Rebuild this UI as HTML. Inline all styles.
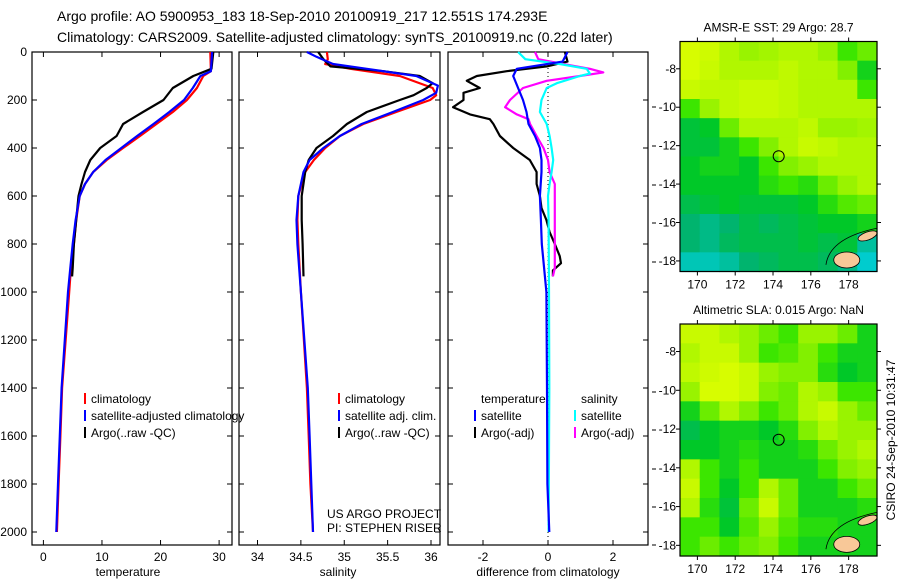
<!DOCTYPE html>
<html><head><meta charset="utf-8">
<style>
html,body{margin:0;padding:0;background:#fff;}
svg{display:block;font-family:"Liberation Sans",Arial,sans-serif;}
</style></head>
<body>
<svg id="fig" width="900" height="580" viewBox="0 0 900 580" xmlns="http://www.w3.org/2000/svg">
<text x="57" y="21" font-size="14">Argo profile: AO 5900953_183 18-Sep-2010 20100919_217 12.551S 174.293E</text>
<text x="57" y="42" font-size="14">Climatology: CARS2009. Satellite-adjusted climatology: synTS_20100919.nc (0.22d later)</text>
<g id="plots"></g>
</svg>
<script>
// ---------- profile data ----------
const tClimDepth = [0,80,100,150,200,250,300,350,400,450,500,550,600,700,800,900,1000,1400,1600,1800,2000];
const tClimVals  = [28.5,28.6,27.3,26.2,24.5,22.1,19.3,16.5,13.6,10.8,8.5,7.1,6.2,5.6,5.2,4.7,4.4,3.2,2.9,2.6,2.3];
const tSatDepth  = [0,80,100,150,200,250,300,350,400,450,500,550,600,700,800,900,1000,1400,1600,1800,2000];
const tSatVals   = [28.8,28.6,26.8,25.5,24.0,21.5,18.8,16.0,13.3,10.6,8.5,7.1,6.2,5.5,5.0,4.6,4.2,3.1,2.8,2.5,2.2];
const tArgoDepth = [0,70,100,150,200,250,300,350,400,450,500,550,600,700,800,900,935];
const tArgoVals  = [29.0,28.7,25.6,22.1,20.5,17.0,13.6,12.5,9.7,8.0,7.1,6.5,6.0,5.6,5.2,5.0,4.9];

const sClimDepth = [0,30,50,70,100,150,180,200,250,300,350,400,450,500,600,700,800,1000,1400,1600,1800,2000];
const sClimVals  = [34.80,34.81,34.78,35.07,35.64,36.02,36.06,35.99,35.60,35.22,34.95,34.78,34.65,34.55,34.47,34.46,34.47,34.50,34.57,34.59,34.61,34.64];
const sSatDepth  = [0,20,50,70,100,140,170,200,250,300,350,400,450,500,600,700,800,1000,1400,1600,1800,2000];
const sSatVals   = [34.57,34.68,34.87,35.26,35.83,36.08,36.06,35.91,35.56,35.20,34.95,34.76,34.60,34.53,34.47,34.45,34.46,34.50,34.58,34.60,34.62,34.64];
const sArgoDepth = [0,30,60,80,100,130,150,180,200,250,300,350,400,450,500,600,700,800,935];
const sArgoVals  = [34.70,34.76,34.84,35.45,35.87,36.02,35.95,35.80,35.64,35.26,35.03,34.87,34.68,34.59,34.55,34.51,34.51,34.52,34.53];

const dTSatDepth = [0,40,70,100,150,200,250,300,350,400,450,500,600,700,800,900,1000,1400,1800,2000];
const dTSatVals  = [0.6,0.45,-0.96,-1.07,-0.92,-0.77,-0.66,-0.6,-0.4,-0.25,-0.2,-0.2,-0.25,-0.22,-0.19,-0.12,-0.05,-0.03,-0.02,0.04];
const dTArgoDepth = [0,40,60,80,100,120,150,170,200,230,260,280,300,350,400,450,500,550,600,650,700,750,800,850,880,910,935];
const dTArgoVals  = [0.52,0.6,-0.04,-1.27,-2.19,-2.5,-2.1,-2.6,-2.6,-2.92,-2.4,-1.79,-1.68,-1.48,-1.07,-0.56,-0.35,-0.35,-0.25,-0.2,-0.05,0.05,0.21,0.36,0.4,0.15,0.15];
const dSSatDepth = [0,30,50,70,90,100,130,150,200,250,300,350,400,450,500,550,600,700,1000,1400,2000];
const dSSatVals  = [-0.92,-0.7,0.36,1.19,1.29,0.98,0.27,-0.04,-0.2,-0.25,-0.04,0.05,0.11,0.16,0.11,0.05,0.0,0.02,0.03,0.04,0.02];
const dSArgoDepth = [0,30,50,70,85,100,120,150,200,230,260,280,300,350,400,450,500,550,600,700,800,900,935];
const dSArgoVals  = [-0.4,-0.3,0.46,1.29,1.7,0.98,-0.04,-0.77,-1.17,-1.32,-0.96,-0.6,-0.55,-0.35,-0.14,0.0,0.05,0.21,0.21,0.21,0.21,0.21,0.15];

const depthTicks = [0,200,400,600,800,1000,1200,1400,1600,1800,2000];
const tempTicks = [0,10,20,30];
const salTicks = [34,34.5,35,35.5,36];
const salTickLabels = ["34","34.5","35","35.5","36"];
const diffTicks = [-2,0,2];

// ---------- map data (values 0..1 on colormap) ----------
const sstGrid = [
[0.95,0.92,0.85,0.8,0.82,0.85,0.85,0.8,0.6,0.7],
[0.95,0.9,0.85,0.85,0.85,0.88,0.85,0.85,0.75,0.5],
[0.9,0.88,0.88,0.9,0.9,0.88,0.85,0.85,0.85,0.6],
[0.6,0.8,0.88,0.9,0.9,0.88,0.85,0.85,0.85,0.85],
[0.4,0.45,0.7,0.85,0.85,0.85,0.88,0.8,0.8,0.82],
[0.4,0.4,0.5,0.6,0.75,0.85,0.9,0.88,0.85,0.85],
[0.45,0.5,0.5,0.45,0.6,0.75,0.8,0.85,0.85,0.85],
[0.45,0.45,0.45,0.45,0.55,0.6,0.55,0.7,0.8,0.85],
[0.35,0.4,0.45,0.4,0.4,0.4,0.45,0.55,0.65,0.7],
[0.25,0.2,0.25,0.35,0.3,0.35,0.4,0.45,0.45,0.5],
[0.25,0.2,0.3,0.35,0.35,0.35,0.4,0.35,0.4,0.15],
[0.1,0.1,0.15,0.25,0.3,0.35,0.35,0.3,0.2,0.05]];
const slaGrid = [
[0.9,0.9,0.85,0.8,0.7,0.6,0.8,0.8,0.7,0.5],
[0.85,0.9,0.9,0.8,0.6,0.65,0.75,0.6,0.5,0.5],
[0.88,0.92,0.95,0.9,0.8,0.75,0.75,0.55,0.45,0.5],
[0.8,0.95,0.95,0.9,0.75,0.7,0.85,0.8,0.6,0.6],
[0.5,0.7,0.85,0.75,0.6,0.7,0.85,0.9,0.8,0.7],
[0.35,0.45,0.5,0.5,0.45,0.55,0.75,0.85,0.8,0.8],
[0.45,0.45,0.5,0.55,0.5,0.5,0.55,0.7,0.8,0.85],
[0.85,0.6,0.5,0.6,0.5,0.5,0.5,0.6,0.75,0.8],
[0.9,0.6,0.45,0.6,0.85,0.7,0.5,0.5,0.6,0.7],
[0.85,0.55,0.4,0.7,0.9,0.7,0.5,0.5,0.5,0.55],
[0.6,0.6,0.45,0.65,0.8,0.65,0.55,0.55,0.5,0.5],
[0.6,0.7,0.6,0.7,0.75,0.6,0.5,0.5,0.5,0.5]];
const lonTicks = [170,172,174,176,178];
const latTicks = [-8,-10,-12,-14,-16,-18];
const argoLon = 174.3, argoLat = -12.55;

const NS = "http://www.w3.org/2000/svg";
const root = document.getElementById('plots');
function mk(tag, attrs, parent, text){
  const e = document.createElementNS(NS, tag);
  for (const k in attrs) e.setAttribute(k, attrs[k]);
  if (text !== undefined) e.textContent = text;
  (parent||root).appendChild(e);
  return e;
}
const Y0 = 52, Y1 = 545;
function yD(d){ return 52 + 0.24*d; }

function panel(name, x0, x1, xf, ticks, labels, xlabel, lxc){
  const g = mk('g', {});
  
  
  const fr = mk('rect', {x:x0, y:Y0, width:x1-x0, height:Y1-Y0, fill:'none', stroke:'#000', 'stroke-width':1.2}, g);
  
  
  ticks.forEach((t,i)=>{
    const x = xf(t);
    mk('line', {x1:x, x2:x, y1:Y1, y2:Y1-5, stroke:'#000'}, g);
    mk('line', {x1:x, x2:x, y1:Y0, y2:Y0+5, stroke:'#000'}, g);
    const tl = mk('text', {x:x, y:Y1+16, 'font-size':12, 'text-anchor':'middle'}, g, labels[i]);
    
    
  });
  depthTicks.forEach(d=>{
    mk('line', {x1:x0, x2:x0+5, y1:yD(d), y2:yD(d), stroke:'#000'}, g);
    mk('line', {x1:x1, x2:x1-5, y1:yD(d), y2:yD(d), stroke:'#000'}, g);
  });
  const xl = mk('text', {x:lxc, y:576, 'font-size':12, 'text-anchor':'middle'}, g, xlabel);
  
  
  return g;
}
function series(g, name, depths, vals, xf, color){
  const pts = depths.map((d,i)=> xf(vals[i]).toFixed(1)+','+yD(d).toFixed(1)).join(' ');
  const p = mk('polyline', {points:pts, fill:'none', stroke:color, 'stroke-width':2.2, 'stroke-linejoin':'round'}, g);
  
  
}
function legend(g, x, y, color, label){
  if (color) mk('rect', {x:x, y:y-10, width:2, height:11, fill:color}, g);
  const t = mk('text', {x:x+7, y:y, 'font-size':12}, g, label);
  
  
}

// depth labels
depthTicks.forEach(d=>{
  const t = mk('text', {x:27, y:yD(d)+4, 'font-size':12, 'text-anchor':'end'}, root, String(d));
  
  
});

// Panel 1 temperature
const xT = v => 43.4 + 5.857*v;
const g1 = panel('temperature-panel', 32, 232, xT, tempTicks, tempTicks.map(String), 'temperature', 128);
series(g1, 'temp-climatology-line', tClimDepth, tClimVals, xT, '#ff0000');
series(g1, 'temp-argo-line', tArgoDepth, tArgoVals, xT, '#000000');
series(g1, 'temp-satellite-line', tSatDepth, tSatVals, xT, '#0000ff');
legend(g1, 84, 403, '#ff0000', 'climatology');
legend(g1, 84, 420, '#0000ff', 'satellite-adjusted climatology');
legend(g1, 84, 437, '#000000', 'Argo(..raw -QC)');

// Panel 2 salinity
const xS = v => 257.5 + 86.75*(v-34);
const g2 = panel('salinity-panel', 239, 440, xS, salTicks, salTickLabels, 'salinity', 338);
series(g2, 'sal-climatology-line', sClimDepth, sClimVals, xS, '#ff0000');
series(g2, 'sal-argo-line', sArgoDepth, sArgoVals, xS, '#000000');
series(g2, 'sal-satellite-line', sSatDepth, sSatVals, xS, '#0000ff');
legend(g2, 338, 403, '#ff0000', 'climatology');
legend(g2, 338, 420, '#0000ff', 'satellite adj. clim.');
legend(g2, 338, 437, '#000000', 'Argo(..raw -QC)');
const u1 = mk('text', {x:327, y:518, 'font-size':12}, g2, 'US ARGO PROJECT');


const u2 = mk('text', {x:327, y:532, 'font-size':12}, g2, 'PI: STEPHEN RISER');



// Panel 3 difference
const xD = v => 548 + 32.5*v;
const g3 = panel('difference-panel', 448, 648, xD, diffTicks, diffTicks.map(String), 'difference from climatology', 548);
mk('line', {x1:xD(0), x2:xD(0), y1:Y0, y2:Y1, stroke:'#000', 'stroke-dasharray':'1,3'}, g3);
series(g3, 'diff-temp-argo-line', dTArgoDepth, dTArgoVals, xD, '#000000');
series(g3, 'diff-sal-argo-line', dSArgoDepth, dSArgoVals, xD, '#ff00ff');
series(g3, 'diff-sal-satellite-line', dSSatDepth, dSSatVals, xD, '#00ffff');
series(g3, 'diff-temp-satellite-line', dTSatDepth, dTSatVals, xD, '#0000ff');
legend(g3, 474, 403, null, 'temperature');
legend(g3, 474, 420, '#0000ff', 'satellite');
legend(g3, 474, 437, '#000000', 'Argo(-adj)');
legend(g3, 574, 403, null, 'salinity');
legend(g3, 574, 420, '#00ffff', 'satellite');
legend(g3, 574, 437, '#ff00ff', 'Argo(-adj)');
[107,146,185,223,262,392,430,469,507,545].forEach(y=>mk('line',{x1:652,x2:656,y1:y,y2:y,stroke:'#000'}));

// ---------- maps ----------
function cmap(v){
  const stops = [[0,[0,210,230]],[0.25,[0,180,110]],[0.45,[0,200,40]],[0.6,[60,230,0]],[0.75,[130,240,0]],[0.9,[200,250,0]],[1,[230,255,0]]];
  for (let i=1;i<stops.length;i++){
    if (v<=stops[i][0]){
      const a=stops[i-1], b=stops[i], f=(v-a[0])/(b[0]-a[0]);
      const c=a[1].map((x,k)=>Math.round(x+(b[1][k]-x)*f));
      return 'rgb('+c.join(',')+')';
    }
  }
  return 'rgb(230,255,0)';
}
function drawMap(name, grid, x0, y0, x1, y1, title){
  const g = mk('g', {});
  
  
  const lonMin=169.08, lonMax=179.5, latTop=-6.58, latBot=-18.55;
  const lx = lon => x0 + (lon-lonMin)/(lonMax-lonMin)*(x1-x0);
  const ly = lat => y0 + (latTop-lat)/(latTop-latBot)*(y1-y0);
  const rows = grid.length, cols = grid[0].length;
  const cw = (x1-x0)/cols, ch = (y1-y0)/rows;
  grid.forEach((row,r)=>row.forEach((v,c)=>{
    const cell = mk('rect', {x:x0+c*cw, y:y0+r*ch, width:cw+0.6, height:ch+0.6, fill:cmap(v)}, g);
    
    
  }));
  // land (Fiji)
  const l1 = mk('ellipse', {cx:lx(177.9), cy:ly(-17.95), rx:13, ry:8, fill:'#f8c898', stroke:'#000', 'stroke-width':0.8}, g);
  
  
  const l2 = mk('ellipse', {cx:lx(179), cy:ly(-16.7), rx:10, ry:4, fill:'#f8c898', stroke:'#000', 'stroke-width':0.8, transform:'rotate(-20 '+lx(179)+' '+ly(-16.7)+')'}, g);
  
  
  mk('path', {d:'M'+lx(176.8)+' '+ly(-18.2)+' Q'+lx(177)+' '+ly(-16.8)+' '+lx(179.5)+' '+ly(-16.3), fill:'none', stroke:'#000', 'stroke-width':0.8}, g);
  const fr = mk('rect', {x:x0, y:y0, width:x1-x0, height:y1-y0, fill:'none', stroke:'#000', 'stroke-width':1.2}, g);
  
  
  const ci = mk('circle', {cx:lx(argoLon), cy:ly(argoLat), r:5.5, fill:'none', stroke:'#000', 'stroke-width':1}, g);
  
  
  lonTicks.forEach(t=>{
    const x=lx(t);
    mk('line',{x1:x,x2:x,y1:y0,y2:y0-4,stroke:'#000'},g);
    mk('line',{x1:x,x2:x,y1:y1,y2:y1+4,stroke:'#000'},g);
    const tl = mk('text',{x:x,y:y1+17,'font-size':12,'text-anchor':'middle'},g,String(t));
    
    
  });
  latTicks.forEach(t=>{
    const y=ly(t);
    mk('line',{x1:x0,x2:x0-4,y1:y,y2:y,stroke:'#000'},g);
    mk('line',{x1:x1,x2:x1+4,y1:y,y2:y,stroke:'#000'},g);
    const tl = mk('text',{x:x0-4,y:y+4,'font-size':12,'text-anchor':'end'},g,String(t));
    
    
  });
  const tt = mk('text',{x:(x0+x1)/2,y:y0-10,'font-size':12,'text-anchor':'middle'},g,title);
  
  
}
drawMap('sst-map', sstGrid, 680, 41.5, 877, 271.5, 'AMSR-E SST: 29 Argo: 28.7');
drawMap('sla-map', slaGrid, 680, 324, 877, 556, 'Altimetric SLA: 0.015 Argo: NaN');

const st = mk('text', {x:0, y:0, 'font-size':12, 'text-anchor':'middle', transform:'translate(895,440) rotate(-90)'}, root, 'CSIRO 24-Sep-2010 10:31:47');


</script>
</body></html>
